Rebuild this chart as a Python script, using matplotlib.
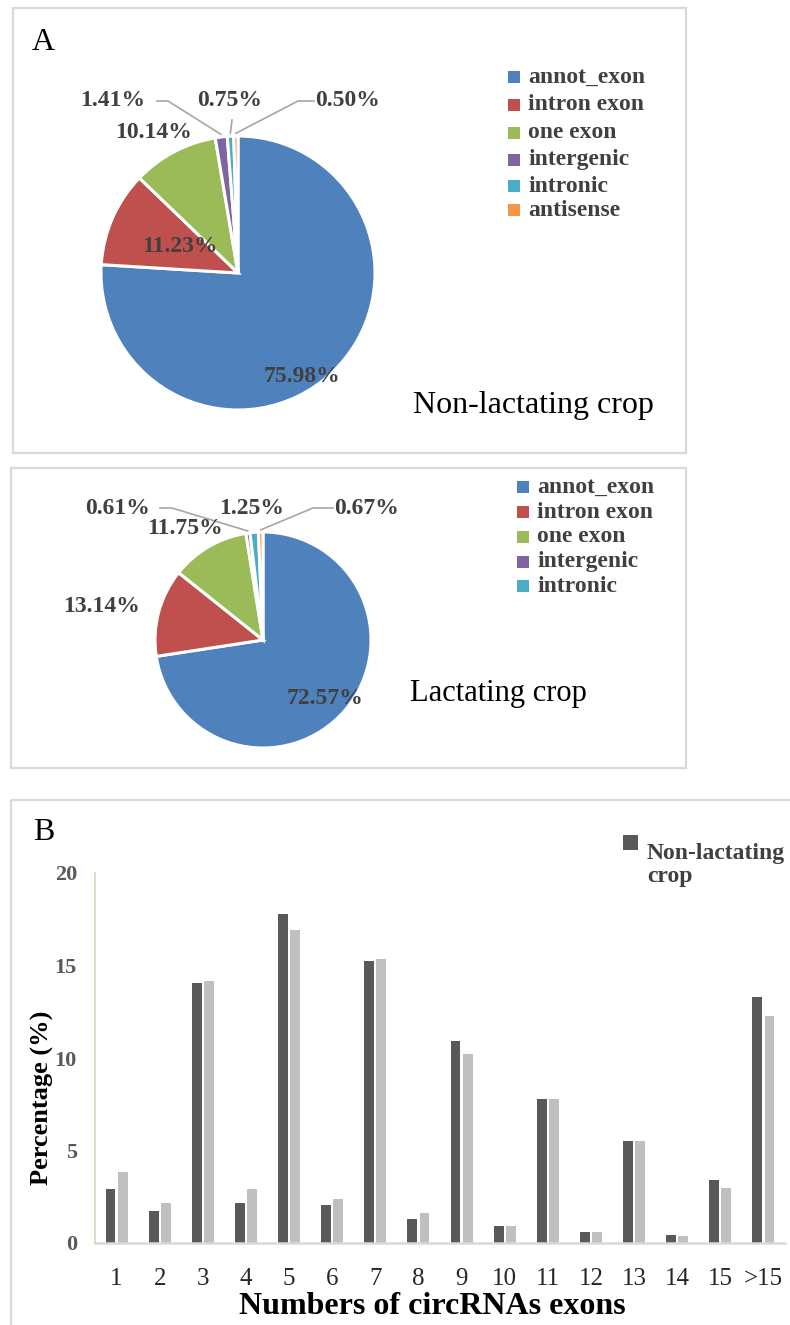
import matplotlib
matplotlib.use("Agg")
import matplotlib.pyplot as plt
from matplotlib.patches import Rectangle
import numpy as np

plt.rcParams['font.family'] = ['Liberation Serif', 'DejaVu Serif']

# ---- data -------------------------------------------------------------
source_types = ['annot_exon', 'intron exon', 'one exon', 'intergenic', 'intronic', 'antisense']
type_colors = ['#4F81BD', '#C0504D', '#9BBB59', '#8064A2', '#4BACC6', '#F79646']
nonlact_share = [75.98, 11.23, 10.14, 1.41, 0.75, 0.50]
lact_share = [72.57, 13.14, 11.75, 0.61, 1.25, 0.67]

exon_bins = ['1', '2', '3', '4', '5', '6', '7', '8', '9', '10', '11', '12', '13', '14', '15', '>15']
nonlact_pct = [2.9, 1.72, 14.08, 2.17, 17.8, 2.03, 15.23, 1.30, 10.9, 0.91, 7.79, 0.58, 5.49, 0.45, 3.42, 13.3]
lact_pct = [3.86, 2.17, 14.17, 2.9, 16.94, 2.39, 15.34, 1.63, 10.22, 0.91, 7.79, 0.58, 5.49, 0.36, 3.0, 12.26]
pct_ticks = [0, 5, 10, 15, 20]

# ---- canvas -----------------------------------------------------------
W, H = 790, 1325
fig = plt.figure(figsize=(W / 100, H / 100), dpi=100)

def px_axes(x0, y0, x1, y1):
    return fig.add_axes([x0 / W, 1 - y1 / H, (x1 - x0) / W, (y1 - y0) / H])

# full-figure overlay working in pixel units (y downwards), drawn above the data axes
ov = px_axes(0, 0, W, H)
ov.set_xlim(0, W)
ov.set_ylim(H, 0)
ov.axis('off')
ov.patch.set_alpha(0)
ov.set_zorder(10)

BOX = '#D9D9D9'
for (x0, y0, x1, y1) in [(13, 8, 686, 453), (11, 468, 686, 768), (11, 800, 830, 1360)]:
    ov.add_patch(Rectangle((x0, y0), x1 - x0, y1 - y0, fill=False, ec=BOX, lw=1.6, zorder=0))

LBL = '#404040'
LEAD = '#A6A6A6'


def draw_pie(values, cx, cy, r, label_pos, leaders, legend_y, legend_x, n_legend):
    ax = px_axes(cx - r, cy - r, cx + r, cy + r)
    ax.patch.set_alpha(0)
    ax.pie(values, colors=type_colors, startangle=90, counterclock=False,
           wedgeprops=dict(edgecolor='white', linewidth=2.2))
    ax.set_xlim(-1, 1)
    ax.set_ylim(-1, 1)
    ax.set_aspect('auto')
    total = float(sum(values))
    cum = np.cumsum([0] + list(values))[:-1]
    for i, v in enumerate(values):
        lx, ly = label_pos[i]
        ov.text(lx, ly, f'{v:.2f}%', ha='center', va='center', fontsize=17,
                fontweight='bold', color=LBL, zorder=5)
        if i in leaders:
            theta = np.deg2rad(90 - 360 * (cum[i] + v / 2) / total)
            ex = cx + 1.02 * r * np.cos(theta)
            ey = cy - 1.02 * r * np.sin(theta)
            pts = leaders[i] + [(ex, ey)]
            ov.plot([p[0] for p in pts], [p[1] for p in pts], color=LEAD, lw=1.2, zorder=4)
    for k in range(n_legend):
        y = legend_y[k]
        ov.add_patch(Rectangle((legend_x, y - 6), 12, 12, color=type_colors[k], zorder=5, lw=0))
        ov.text(legend_x + 20, y, source_types[k], ha='left', va='center', fontsize=17,
                fontweight='bold', color=LBL, zorder=5)


# ---- panel A : non-lactating ------------------------------------------
draw_pie(nonlact_share, 238, 273, 137,
         [(302, 377), (180, 247), (154, 132), (113, 100), (230, 100), (348, 100)],
         {3: [(157, 101), (168, 101)], 4: [(232, 120)], 5: [(314, 101), (298, 101)]},
         [77, 105, 133, 160, 186, 210], 508, 6)
ov.text(43, 43, 'A', ha='center', va='center', fontsize=23, color='black')
ov.text(413, 405, 'Non-lactating crop', ha='left', va='center', fontsize=23, color='black')

# ---- lactating pie ----------------------------------------------------
draw_pie(lact_share, 263, 640, 108,
         [(325, 698), (102, 607), (185, 528), (118, 508), (252, 508), (367, 508)],
         {3: [(160, 508), (172, 508)], 5: [(333, 508), (313, 508)]},
         [487, 512, 537, 562, 586], 517, 5)
ov.text(410, 693, 'Lactating crop', ha='left', va='center', fontsize=22, color='black')

# ---- panel B : exon-count distribution --------------------------------
bx = px_axes(95, 873, 785, 1243)
bx.patch.set_alpha(0)
xpos = np.arange(len(exon_bins))
bw = 0.23
bx.bar(xpos - 0.14, nonlact_pct, width=bw, color='#595959', label='Non-lactating\ncrop')
bx.bar(xpos + 0.14, lact_pct, width=bw, color='#BFBFBF', label='Lactating crop')
bx.set_xlim(-0.5, len(exon_bins) - 0.5)
bx.set_ylim(0, 20)
for s in ['top', 'right']:
    bx.spines[s].set_visible(False)
bx.spines['left'].set_color('#E3DAC6')
bx.spines['left'].set_linewidth(1.5)
bx.spines['bottom'].set_color('#D9D9D9')
bx.spines['bottom'].set_linewidth(1.8)
bx.set_yticks(pct_ticks)
bx.set_yticklabels([str(t) for t in pct_ticks], fontsize=16, fontweight='bold', color='#595959')
bx.set_xticks(xpos)
bx.set_xticklabels(exon_bins, fontsize=18, color='#262626')
bx.tick_params(axis='both', length=0)
bx.tick_params(axis='y', pad=13)
bx.tick_params(axis='x', pad=18)

ov.text(44, 833, 'B', ha='center', va='center', fontsize=23, color='black')
ov.text(42, 1098, 'Percentage (%)', rotation=90, ha='center', va='center', fontsize=19,
        fontweight='bold', color='black')
ov.text(432, 1306, 'Numbers of circRNAs exons', ha='center', va='center', fontsize=23,
        fontweight='bold', color='black')

# legend (only the first entry fits inside the frame)
ov.add_patch(Rectangle((623, 835), 15, 15, color='#595959', lw=0, zorder=5))
ov.text(647, 843, 'Non-lactating\ncrop', ha='left', va='top', fontsize=17, fontweight='bold',
        color=LBL, linespacing=1.15, zorder=5)

fig.savefig('out.png', dpi=100)
